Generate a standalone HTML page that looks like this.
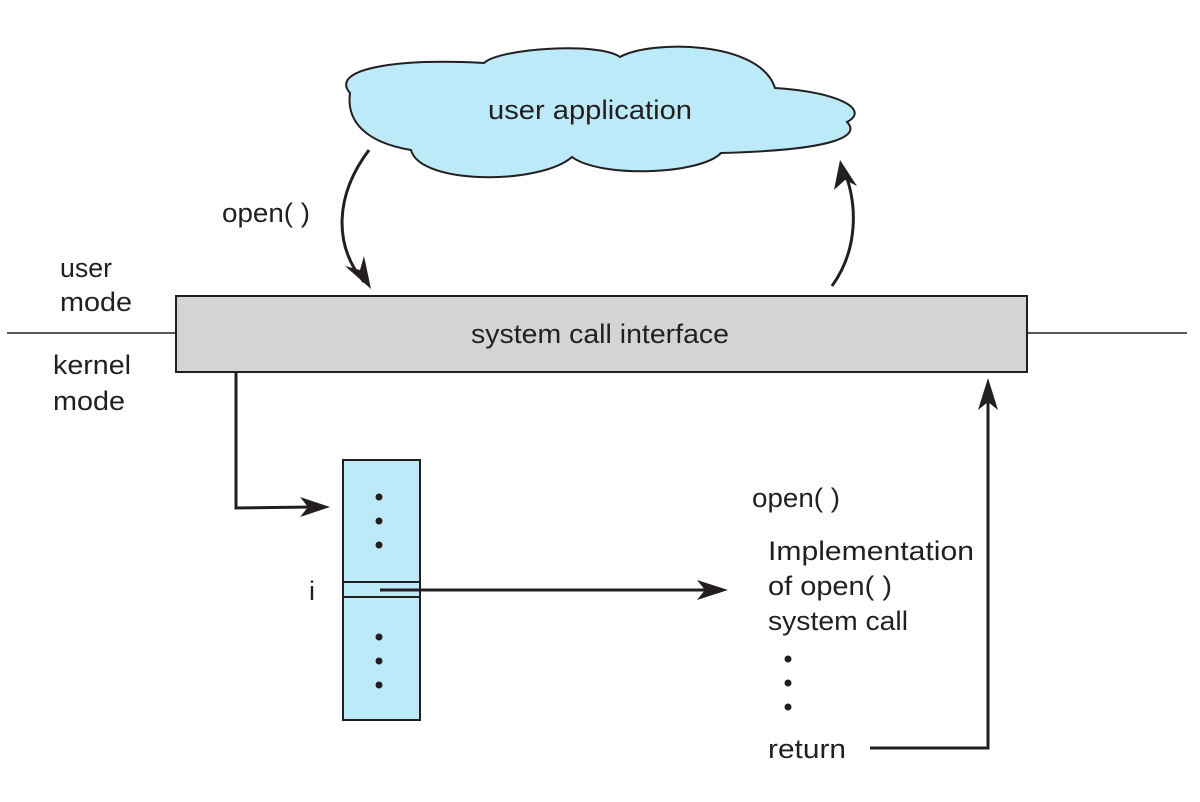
<!DOCTYPE html>
<html><head><meta charset="utf-8"><style>html,body{margin:0;padding:0;background:#fff}svg{display:block}text{font-family:"Liberation Sans",sans-serif;font-size:27px;fill:#231f20}</style></head>
<body>
<svg width="1200" height="802" viewBox="0 0 1200 802" xmlns="http://www.w3.org/2000/svg">
<!-- cloud -->
<path d="M350,93 C330,70 390,58 484,63 C500,48 600,42 620,57 C650,40 760,40 775,88 C840,92 870,110 847,122 C860,135 840,150 721,153 C700,175 600,178 572,157 C540,185 420,185 411,150 C380,145 345,130 350,93 Z" fill="#bdeaf8" stroke="#231f20" stroke-width="2"/>
<text x="590" y="119" text-anchor="middle" textLength="204" lengthAdjust="spacingAndGlyphs">user application</text>
<!-- arcs -->
<path d="M369,150 C335,195 333,245 364,282" fill="none" stroke="#231f20" stroke-width="3"/>
<polygon points="371,289 345,266 360,270 364,256" fill="#231f20"/>
<path d="M832,286 C858,250 858,205 844,170" fill="none" stroke="#231f20" stroke-width="3"/>
<polygon points="840,160 857,186 845,180 834,190" fill="#231f20"/>
<text x="222" y="222" textLength="88" lengthAdjust="spacingAndGlyphs">open( )</text>
<!-- mode lines -->
<line x1="7" y1="333" x2="176" y2="333" stroke="#231f20" stroke-width="1.5"/>
<line x1="1027" y1="333" x2="1187" y2="333" stroke="#231f20" stroke-width="1.5"/>
<text x="60" y="277" textLength="52" lengthAdjust="spacingAndGlyphs">user</text>
<text x="60" y="311" textLength="72" lengthAdjust="spacingAndGlyphs">mode</text>
<text x="53" y="374" textLength="78" lengthAdjust="spacingAndGlyphs">kernel</text>
<text x="53" y="410" textLength="72" lengthAdjust="spacingAndGlyphs">mode</text>
<!-- bar -->
<rect x="176" y="296" width="851" height="76" fill="#d3d4d6" stroke="#231f20" stroke-width="2"/>
<text x="600" y="343" text-anchor="middle" textLength="258" lengthAdjust="spacingAndGlyphs">system call interface</text>
<!-- down then right arrow -->
<polyline points="236,372 236,508 312,507" fill="none" stroke="#231f20" stroke-width="3"/>
<polygon points="330,507 300,497 308,507 300,517" fill="#231f20"/>
<!-- table -->
<rect x="343" y="460" width="77" height="260" fill="#bdeaf8" stroke="#231f20" stroke-width="2"/>
<line x1="343" y1="582" x2="420" y2="582" stroke="#231f20" stroke-width="2"/>
<line x1="343" y1="597" x2="420" y2="597" stroke="#231f20" stroke-width="2"/>
<g fill="#231f20">
<circle cx="379" cy="497" r="3.5"/><circle cx="379" cy="521" r="3.5"/><circle cx="379" cy="545" r="3.5"/>
<circle cx="379" cy="637" r="3.5"/><circle cx="379" cy="661" r="3.5"/><circle cx="379" cy="685" r="3.5"/>
<circle cx="788" cy="659" r="3.5"/><circle cx="788" cy="683" r="3.5"/><circle cx="788" cy="707" r="3.5"/>
</g>
<text x="309" y="600">i</text>
<line x1="380" y1="590" x2="712" y2="590" stroke="#231f20" stroke-width="3"/>
<polygon points="728,590 697,580 705,590 697,600" fill="#231f20"/>
<!-- right texts -->
<text x="752" y="507" textLength="88" lengthAdjust="spacingAndGlyphs">open( )</text>
<text x="768" y="560" textLength="206" lengthAdjust="spacingAndGlyphs">Implementation</text>
<text x="768" y="595" textLength="124" lengthAdjust="spacingAndGlyphs">of open( )</text>
<text x="768" y="630" textLength="140" lengthAdjust="spacingAndGlyphs">system call</text>
<text x="768" y="758" textLength="78" lengthAdjust="spacingAndGlyphs">return</text>
<!-- return arrow -->
<polyline points="870,748 988,748 988,395" fill="none" stroke="#231f20" stroke-width="3"/>
<polygon points="988,378 978,410 988,402 998,410" fill="#231f20"/>
</svg>
</body></html>
